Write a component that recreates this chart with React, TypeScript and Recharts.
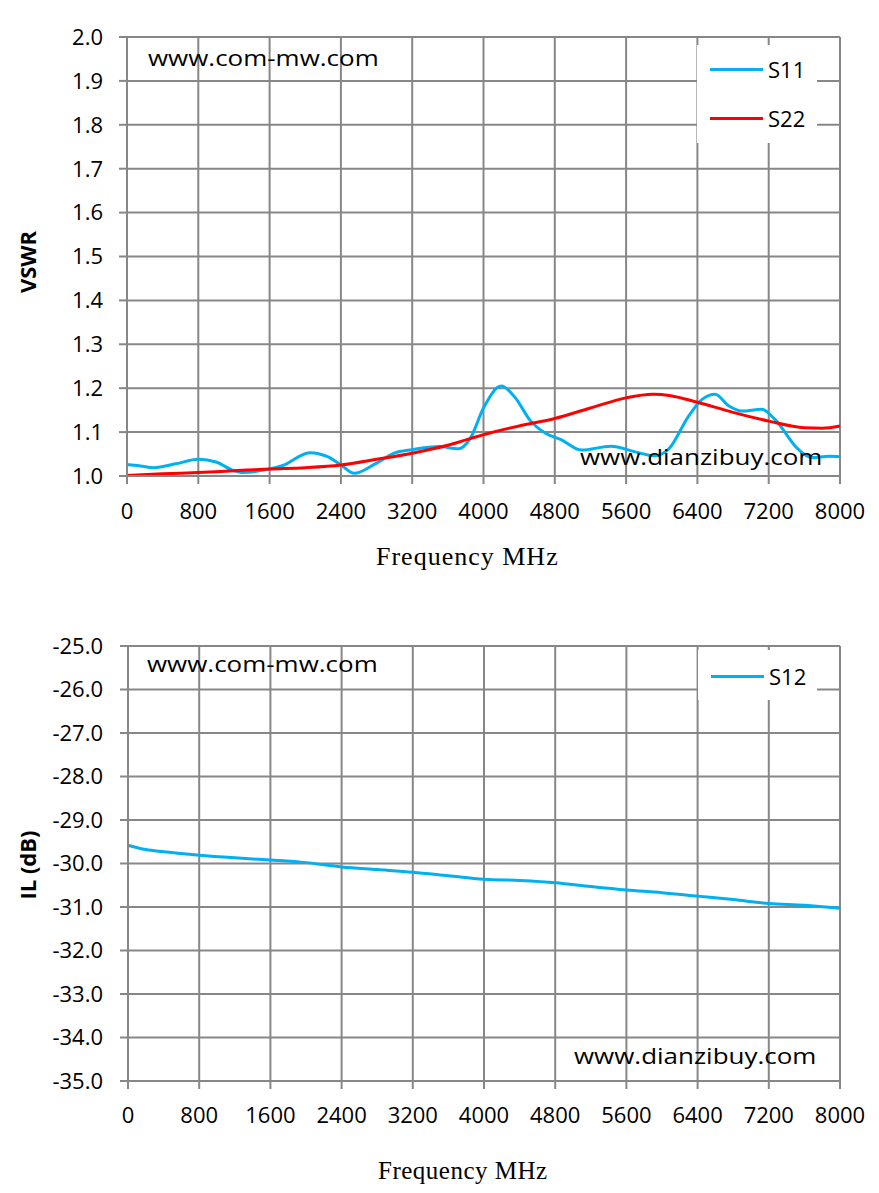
import { CartesianGrid, Legend, Line, LineChart, XAxis, YAxis } from "recharts";

// VSWR (S11/S22) and insertion loss (S12) vs frequency, two stacked charts.

const freqTicks = [0, 800, 1600, 2400, 3200, 4000, 4800, 5600, 6400, 7200, 8000];
const vswrTicks = [1.0, 1.1, 1.2, 1.3, 1.4, 1.5, 1.6, 1.7, 1.8, 1.9, 2.0];
const ilTicks = [-35, -34, -33, -32, -31, -30, -29, -28, -27, -26, -25];

const s11Freq = [
  0, 150, 300, 550, 800, 1000, 1200, 1300, 1550, 1750, 2050, 2250, 2400, 2550, 2780, 3000, 3200,
  3500, 3720, 3850, 4000, 4200, 4350, 4530, 4700, 4870, 5100, 5430, 5700, 5920, 6080, 6300, 6450,
  6600, 6750, 6900, 7120, 7270, 7530, 7680, 7880, 8000,
];
const s11Vswr = [
  1.026, 1.023, 1.019, 1.028, 1.038, 1.032, 1.012, 1.008, 1.014, 1.024, 1.053, 1.044, 1.025, 1.006,
  1.027, 1.052, 1.06, 1.067, 1.062, 1.085, 1.155, 1.205, 1.18, 1.125, 1.097, 1.083, 1.059, 1.068,
  1.055, 1.046, 1.062, 1.136, 1.174, 1.186, 1.16, 1.148, 1.152, 1.129, 1.061, 1.042, 1.045, 1.044,
];

const s22Freq = [
  0, 400, 800, 1200, 1600, 2000, 2400, 2800, 3200, 3600, 4000, 4400, 4800, 5200, 5600, 5900, 6100,
  6400, 6800, 7200, 7600, 7800, 8000,
];
const s22Vswr = [
  1.001, 1.005, 1.008, 1.012, 1.016, 1.019, 1.025, 1.038, 1.052, 1.07, 1.094, 1.114, 1.131, 1.155,
  1.178, 1.186, 1.183, 1.168, 1.145, 1.125, 1.11, 1.109, 1.114,
];

const s12Freq = [
  0, 200, 400, 800, 1200, 1600, 2000, 2400, 2800, 3200, 3600, 4000, 4400, 4800, 5200, 5600, 6000,
  6400, 6800, 7200, 7600, 8000,
];
const s12Il = [
  -29.58, -29.68, -29.73, -29.81, -29.87, -29.92, -29.98, -30.08, -30.14, -30.2, -30.28, -30.36,
  -30.39, -30.44, -30.53, -30.61, -30.67, -30.75, -30.83, -30.92, -30.96, -31.03,
];

const s11Data = s11Freq.map((f, i) => ({ f, v: s11Vswr[i] }));
const s22Data = s22Freq.map((f, i) => ({ f, v: s22Vswr[i] }));
const s12Data = s12Freq.map((f, i) => ({ f, v: s12Il[i] }));

const GRID = "#878787";
const SANS = "'Open Sans', sans-serif";
const TICK = { fill: "#000", fontSize: 22, fontFamily: SANS };

function abs(left: number, top: number, extra: React.CSSProperties = {}): React.CSSProperties {
  return { position: "absolute", left, top, whiteSpace: "nowrap", ...extra };
}

// the watermarks in the picture are drawn a bit wider than the font, hence the scaleX
function Mark({ left, top, text }: { left: number; top: number; text: string }) {
  return (
    <div
      style={abs(left, top, {
        fontFamily: SANS,
        fontSize: 22,
        lineHeight: "22px",
        color: "#000",
        transform: "scaleX(1.18)",
        transformOrigin: "0 0",
      })}
    >
      {text}
    </div>
  );
}

function AxisTitle({ cx, cy, text }: { cx: number; cy: number; text: string }) {
  return (
    <div
      style={abs(cx - 100, cy - 11, {
        width: 200,
        textAlign: "center",
        fontFamily: SANS,
        fontWeight: 700,
        fontSize: 22,
        lineHeight: "22px",
        transform: "rotate(-90deg)",
      })}
    >
      {text}
    </div>
  );
}

function FreqTitle({ left, top, size, spacing }: { left: number; top: number; size: number; spacing: number }) {
  return (
    <div
      style={abs(left, top, {
        fontFamily: "'Liberation Serif', serif",
        fontSize: size,
        lineHeight: `${size}px`,
        letterSpacing: spacing,
      })}
    >
      Frequency MHz
    </div>
  );
}

function legendBox(w: number, h: number, rowY: number[]) {
  return ({ payload }: any) => (
    <div style={{ position: "relative", width: w, height: h, background: "#fff" }}>
      {(payload || []).map((p: any, i: number) => (
        <div key={p.value} style={{ position: "absolute", left: 0, top: rowY[i] - 12, height: 24, width: w }}>
          <div style={{ position: "absolute", left: 13, top: 11, width: 53, height: 3, background: p.color }} />
          <div
            style={{
              position: "absolute",
              left: 71,
              top: 0,
              fontFamily: SANS,
              fontSize: 22,
              lineHeight: "24px",
              color: "#000",
            }}
          >
            {p.value}
          </div>
        </div>
      ))}
    </div>
  );
}

export default function App() {
  return (
    <div style={{ position: "absolute", left: 0, top: 0, width: 879, height: 1193, background: "#fff" }}>
      <div style={abs(0, 0)}>
        <LineChart width={879} height={590} margin={{ top: 37, right: 39, bottom: 0, left: 0 }}>
          <CartesianGrid stroke={GRID} strokeWidth={2} />
          <XAxis
            type="number"
            dataKey="f"
            domain={[0, 8000]}
            ticks={freqTicks}
            interval={0}
            height={114}
            stroke={GRID}
            strokeWidth={2}
            tickSize={8}
            tickMargin={19}
            tick={TICK}
            allowDuplicatedCategory={false}
          />
          <YAxis
            type="number"
            domain={[1, 2]}
            ticks={vswrTicks}
            interval={0}
            width={127}
            stroke={GRID}
            strokeWidth={2}
            tickSize={8}
            tickMargin={16}
            tick={TICK}
            tickFormatter={(v: number) => v.toFixed(1)}
          />
          <Legend
            layout="vertical"
            align="center"
            verticalAlign="middle"
            wrapperStyle={{ left: 697, top: 45, width: 120, height: 98 }}
            content={legendBox(120, 98, [24, 73])}
          />
          <Line
            data={s11Data}
            dataKey="v"
            name="S11"
            type="monotone"
            stroke="#00B0F0"
            strokeWidth={3}
            dot={false}
            isAnimationActive={false}
          />
          <Line
            data={s22Data}
            dataKey="v"
            name="S22"
            type="monotone"
            stroke="#FF0000"
            strokeWidth={3}
            dot={false}
            isAnimationActive={false}
          />
        </LineChart>
      </div>

      <div style={abs(0, 590)}>
        <LineChart width={879} height={603} margin={{ top: 56, right: 39, bottom: 0, left: 0 }}>
          <CartesianGrid stroke={GRID} strokeWidth={2} />
          <XAxis
            type="number"
            dataKey="f"
            domain={[0, 8000]}
            ticks={freqTicks}
            interval={0}
            height={112}
            stroke={GRID}
            strokeWidth={2}
            tickSize={8}
            tickMargin={18}
            tick={TICK}
          />
          <YAxis
            type="number"
            domain={[-35, -25]}
            ticks={ilTicks}
            interval={0}
            width={128}
            stroke={GRID}
            strokeWidth={2}
            tickSize={8}
            tickMargin={17}
            tick={TICK}
            tickFormatter={(v: number) => v.toFixed(1)}
          />
          <Legend
            layout="vertical"
            align="center"
            verticalAlign="middle"
            wrapperStyle={{ left: 698, top: 60, width: 119, height: 50 }}
            content={legendBox(119, 50, [26])}
          />
          <Line
            data={s12Data}
            dataKey="v"
            name="S12"
            type="monotone"
            stroke="#00B0F0"
            strokeWidth={3}
            dot={false}
            isAnimationActive={false}
          />
        </LineChart>
      </div>

      <Mark left={148} top={46} text="www.com-mw.com" />
      <Mark left={580} top={445} text="www.dianzibuy.com" />
      <Mark left={147} top={652} text="www.com-mw.com" />
      <Mark left={574} top={1044} text="www.dianzibuy.com" />

      <AxisTitle cx={27} cy={262} text="VSWR" />
      <AxisTitle cx={27} cy={865} text="IL (dB)" />

      <FreqTitle left={376} top={544} size={26} spacing={1} />
      <FreqTitle left={378} top={1158} size={25} spacing={0.5} />
    </div>
  );
}
